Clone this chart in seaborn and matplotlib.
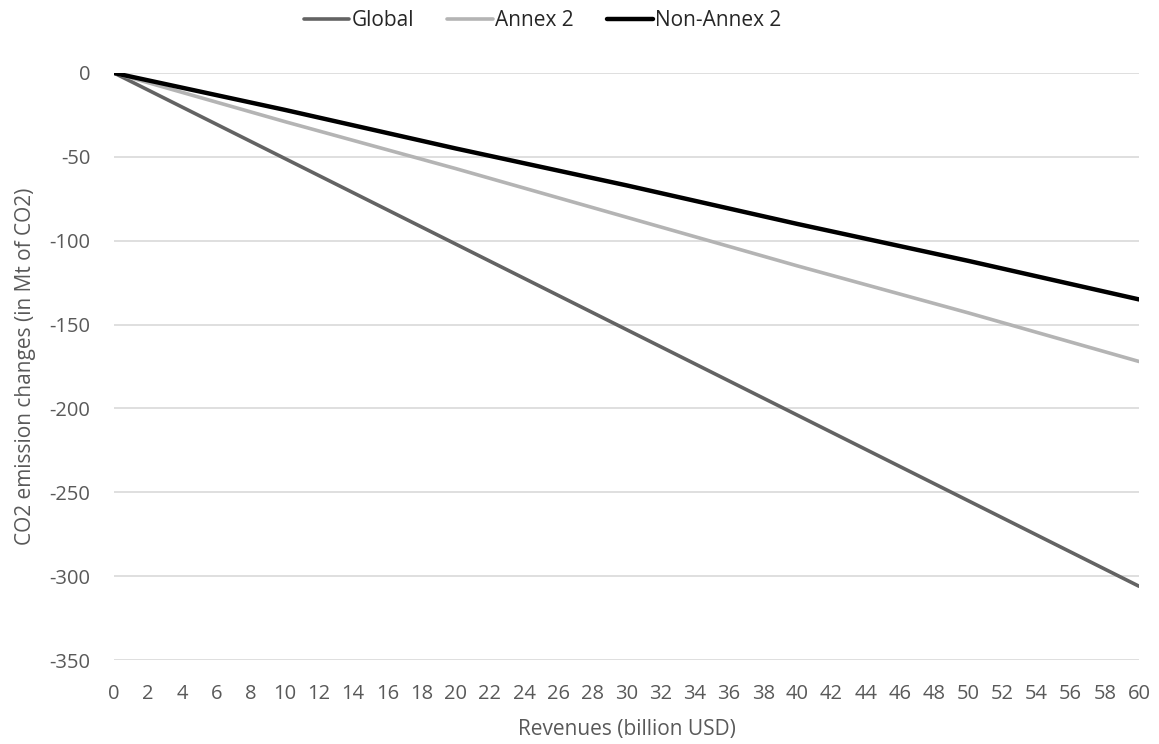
import pandas as pd
import numpy as np
import matplotlib
matplotlib.use('Agg')
import matplotlib.pyplot as plt
import seaborn as sns

# values (Mt of CO2)
revenues = [0, 10, 20, 30, 40, 50, 60]
global_vals = [0, -51, -102, -153, -204, -255, -306]
annex2_vals = [0, -29, -57, -86, -115, -143, -172]
non_annex2_vals = [0, -22, -45, -67, -90, -112, -135]

series_names = ['Global', 'Annex 2', 'Non-Annex 2']
series_colors = ['#636363', '#b4b4b4', '#000000']
series_widths = [2.6, 2.6, 3.2]

df = pd.DataFrame({
    'Revenues': revenues * 3,
    'Change': global_vals + annex2_vals + non_annex2_vals,
    'Series': [s for s in series_names for _ in revenues],
})

sns.set_style('white')
plt.rcParams['font.family'] = ['Open Sans', 'DejaVu Sans']
plt.rcParams['axes.unicode_minus'] = False

fig = plt.figure(figsize=(11.59, 7.44), dpi=100)
ax = fig.add_axes([0.0984, 0.1129, 0.8843, 0.789])

for name, col, lw in zip(series_names, series_colors, series_widths):
    sns.lineplot(data=df[df['Series'] == name], x='Revenues', y='Change',
                 color=col, linewidth=lw, label=name, ax=ax,
                 solid_capstyle='round')

ax.set_xlim(0, 60)
ax.set_ylim(-350, 0)
ax.set_xticks(np.arange(0, 61, 2))
ax.set_yticks(np.arange(-350, 1, 50))
ax.yaxis.grid(True, color='#d9d9d9', linewidth=1.2)
ax.xaxis.grid(False)
ax.set_axisbelow(True)
for sp in ax.spines.values():
    sp.set_visible(False)

ax.tick_params(axis='both', length=0, labelsize=14.5, labelcolor='#595959')
ax.tick_params(axis='y', pad=17)
ax.tick_params(axis='x', pad=17)

ax.set_xlabel('Revenues (billion USD)', fontsize=15, color='#595959', labelpad=11)
ax.set_ylabel('CO2 emission changes (in Mt of CO2)', fontsize=15, color='#595959', labelpad=10)

ax.legend(loc='center', bbox_to_anchor=(0.468, 0.972), bbox_transform=fig.transFigure,
          ncol=3, frameon=False, fontsize=15, handlelength=2.2, handletextpad=0.1,
          columnspacing=1.6)

fig.savefig('out.png', dpi=100)
